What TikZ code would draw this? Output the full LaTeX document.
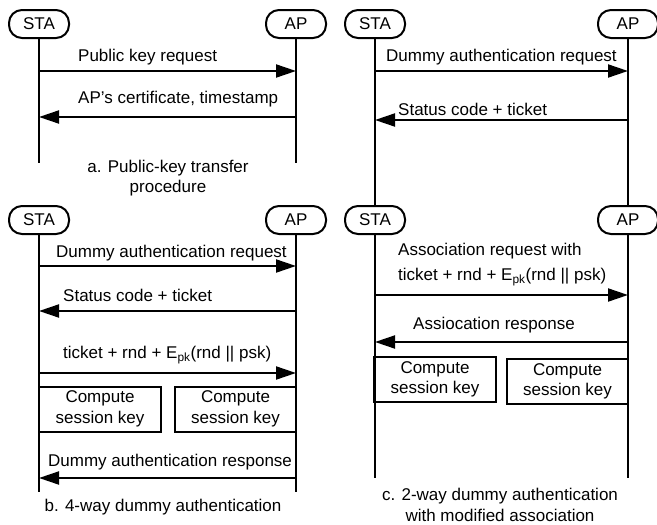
\documentclass[tikz,border=0pt]{standalone}
\usepackage{fontspec}
\setmainfont{Liberation Sans}
\usetikzlibrary{arrows.meta}

\tikzset{
    party/.style={draw, line width=2pt, rounded corners=13pt, minimum width=60pt, minimum height=28pt, inner sep=0pt},
    life/.style={line width=2pt},
    msg/.style={line width=2pt, -{Triangle[length=20pt, width=13pt]}},
    keybox/.style={draw, line width=2pt, minimum height=45pt, align=center, inner sep=0pt},
    lbl/.style={anchor=west, inner sep=0pt, align=left},
}

\begin{document}
\begin{tikzpicture}[x=1pt, y=-1pt, font=\fontsize{17}{20.5}\selectfont]
    \useasboundingbox (0,0) rectangle (657,525);

    % a. public-key transfer
    \node[party] (staA) at (39,24) {STA};
    \node[party] (apA) at (296,24) {AP};
    \coordinate (staAend) at (39,163);
    \coordinate (apAend) at (296,163);
    \draw[life] (staA) -- (staAend);
    \draw[life] (apA) -- (apAend);
    \foreach \n/\y in {a1/71, a2/117} {
        \coordinate (\n s) at (39,\y);
        \coordinate (\n a) at (296,\y);
    }
    \draw[msg] (a1s) -- (a1a);
    \node[lbl] (a1t) at (78,57) {Public key request};
    \draw[msg] (a2a) -- (a2s);
    \node[lbl] (a2t) at (78,99) {AP's certificate, timestamp};
    \node[align=center] (capA) at (168,178) {a. Public-key transfer\\procedure};

    % b. 4-way dummy authentication
    \node[party] (staB) at (39,220) {STA};
    \node[party] (apB) at (296,220) {AP};
    \coordinate (staBend) at (39,492);
    \coordinate (apBend) at (296,492);
    \draw[life] (staB) -- (staBend);
    \draw[life] (apB) -- (apBend);
    \foreach \n/\y in {b1/266, b2/311, b3/373, b4/478} {
        \coordinate (\n s) at (39,\y);
        \coordinate (\n a) at (296,\y);
    }
    \draw[msg] (b1s) -- (b1a);
    \node[lbl] (b1t) at (56,253) {Dummy authentication request};
    \draw[msg] (b2a) -- (b2s);
    \node[lbl] (b2t) at (63,295) {Status code + ticket};
    \draw[msg] (b3s) -- (b3a);
    \node[lbl] (b3t) at (63,355) {ticket + rnd + E\textsubscript{pk}(rnd \textbar\textbar\ psk)};
    \node[keybox, minimum width=122pt] (keyBs) at (100,409) {Compute\\session key};
    \node[keybox, minimum width=121pt] (keyBa) at (235.5,409) {Compute\\session key};
    \draw[msg] (b4a) -- (b4s);
    \node[lbl] (b4t) at (48,462) {Dummy authentication response};
    \node (capB) at (163,507) {b. 4-way dummy authentication};

    % c. 2-way dummy authentication with modified association
    \node[party] (staC) at (375,24) {STA};
    \node[party] (apC) at (628,24) {AP};
    \node[party] (staC2) at (375,220) {STA};
    \node[party] (apC2) at (628,220) {AP};
    \coordinate (staCend) at (375,478);
    \coordinate (apCend) at (628,478);
    \draw[life] (staC) -- (staC2);
    \draw[life] (apC) -- (apC2);
    \draw[life] (staC2) -- (staCend);
    \draw[life] (apC2) -- (apCend);
    \foreach \n/\y in {c1/71, c2/120, c3/295, c4/342} {
        \coordinate (\n s) at (375,\y);
        \coordinate (\n a) at (628,\y);
    }
    \draw[msg] (c1s) -- (c1a);
    \node[lbl] (c1t) at (386,57) {Dummy authentication request};
    \draw[msg] (c2a) -- (c2s);
    \node[lbl] (c2t) at (398,109) {Status code + ticket};
    \draw[msg] (c3s) -- (c3a);
    \node[lbl] (c3t) at (398,264.5) {Association request with\\[4.5pt]ticket + rnd + E\textsubscript{pk}(rnd \textbar\textbar\ psk)};
    \draw[msg] (c4a) -- (c4s);
    \node[lbl] (c4t) at (413,325) {Assiocation response};
    \node[keybox, minimum width=122pt] (keyCs) at (435,379.5) {Compute\\session key};
    \node[keybox, minimum width=121pt] (keyCa) at (567.5,381.5) {Compute\\session key};
    \node[align=center] (capC) at (500,505) {c. 2-way dummy authentication\\with modified association};
\end{tikzpicture}
\end{document}
